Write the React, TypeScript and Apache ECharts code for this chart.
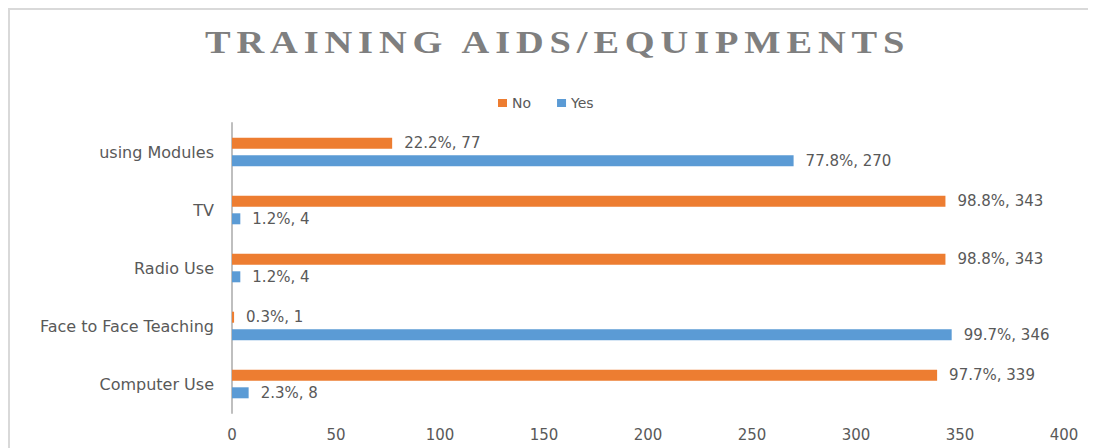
import React, { useEffect, useRef } from "react";
import * as echarts from "echarts";

const categories = ["Computer Use", "Face to Face Teaching", "Radio Use", "TV", "using Modules"];
const yesValues = [8, 346, 4, 4, 270];
const yesPct = [2.3, 99.7, 1.2, 1.2, 77.8];
const noValues = [339, 1, 343, 343, 77];
const noPct = [97.7, 0.3, 98.8, 98.8, 22.2];
const xTicks = [0, 50, 100, 150, 200, 250, 300, 350, 400];
const titleText = "TRAINING AIDS/EQUIPMENTS";

export default function App() {
  const ref = useRef<HTMLDivElement>(null);
  useEffect(() => {
    if (!ref.current) return;
    const chart = echarts.init(ref.current, undefined, { renderer: "svg" });
    const labelStyle = {
      show: true,
      position: "right" as const,
      distance: 12,
      color: "#595959",
      fontSize: 15,
      fontFamily: "DejaVu Sans",
    };
    chart.setOption({
      animation: false,
      backgroundColor: "#ffffff",
      legend: {
        data: ["No", "Yes"],
        top: 83,
        left: 485,
        itemWidth: 9,
        itemHeight: 8,
        itemGap: 26,
        icon: "rect",
        textStyle: { color: "#595959", fontSize: 14, fontFamily: "DejaVu Sans" },
      },
      grid: { left: 224, right: 32, top: 115, bottom: 35, containLabel: false },
      xAxis: {
        type: "value",
        min: xTicks[0],
        max: xTicks[xTicks.length - 1],
        interval: 50,
        axisLine: { show: false },
        axisTick: { show: false },
        splitLine: { show: false },
        axisLabel: { color: "#595959", fontSize: 15, fontFamily: "DejaVu Sans", margin: 14 },
      },
      yAxis: {
        type: "category",
        data: categories,
        axisLine: { show: true, lineStyle: { color: "#bfbfbf", width: 2 } },
        axisTick: { show: false },
        axisLabel: { color: "#595959", fontSize: 16, fontFamily: "DejaVu Sans", margin: 18 },
      },
      series: [
        {
          name: "No",
          type: "bar",
          data: noValues,
          barWidth: 11,
          barGap: "60%",
          itemStyle: { color: "#ed7d31" },
          label: {
            ...labelStyle,
            formatter: (p: any) => `${noPct[p.dataIndex].toFixed(1)}%, ${p.value}`,
          },
        },
        {
          name: "Yes",
          type: "bar",
          data: yesValues,
          barWidth: 11,
          barGap: "60%",
          itemStyle: { color: "#5b9bd5" },
          label: {
            ...labelStyle,
            formatter: (p: any) => `${yesPct[p.dataIndex].toFixed(1)}%, ${p.value}`,
          },
        },
      ],
      graphic: [
        { type: "line", shape: { x1: 0, y1: 1, x2: 1088, y2: 1 }, style: { stroke: "#d9d9d9", lineWidth: 2 } },
        { type: "line", shape: { x1: 1, y1: 0, x2: 1, y2: 440 }, style: { stroke: "#d9d9d9", lineWidth: 2 } },
        {
          type: "text",
          id: "chartTitle",
          x: 197,
          y: 35,
          scaleX: 1.2,
          style: {
            text: titleText,
            font: "bold 32px 'Liberation Serif'",
            fill: "#7f7f7f",
            textAlign: "left",
            textVerticalAlign: "middle",
          },
        },
      ],
    });
    // Excel-style character spacing of the title
    const texts = ref.current.querySelectorAll("text");
    texts.forEach((t) => {
      if (t.textContent === titleText) t.setAttribute("letter-spacing", "4.9");
    });
    return () => chart.dispose();
  }, []);
  return <div ref={ref} style={{ width: 1088, height: 440 }} />;
}
